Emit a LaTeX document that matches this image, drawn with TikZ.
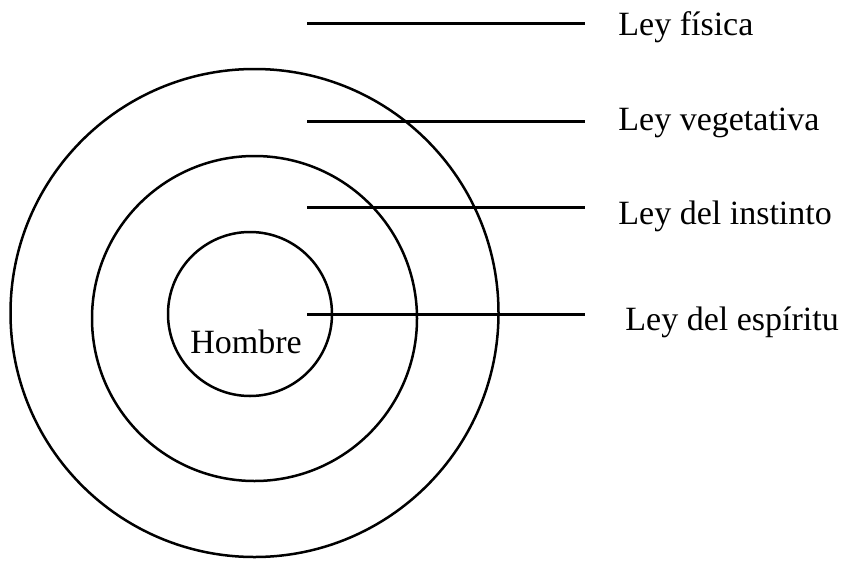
\documentclass[tikz,border=0pt]{standalone}
\usepackage{fontspec}
\setmainfont{Liberation Serif}
\usetikzlibrary{positioning}

\begin{document}
\begin{tikzpicture}[x=0.5pt,y=-0.5pt,
  ring/.style={draw,circle,line width=1.25pt,inner sep=0pt},
  ley/.style={anchor=base west,inner sep=0pt,font=\fontsize{17}{20}\selectfont},
  raya/.style={line width=1.5pt}]
\useasboundingbox (0,0) rectangle (856,562);
% ---------- círculos concéntricos ----------
\node[ring,minimum size=244pt] (externo) at (254.5,313) {};
\node[ring,minimum size=162.5pt] (medio) at (254.5,318.5) {};
\node[ring,minimum size=82pt] (interno) at (250,314) {};
\node[ley,anchor=base] (hombre) at (246,353) {Hombre};
% ---------- leyes ----------
\foreach \y/\b/\x/\txt/\nm in {23/35/618/Ley física/fisica,
    121/130/618/Ley vegetativa/vegetativa,
    207/224/618/Ley del instinto/instinto,
    314/330/625/Ley del espíritu/espiritu}{
  \coordinate (\nm-a) at (307,\y);
  \coordinate (\nm-b) at (585,\y);
  \draw[raya] (\nm-a) -- (\nm-b);
  \node[ley] (\nm) at (\x,\b) {\txt};
}
\end{tikzpicture}
\end{document}
